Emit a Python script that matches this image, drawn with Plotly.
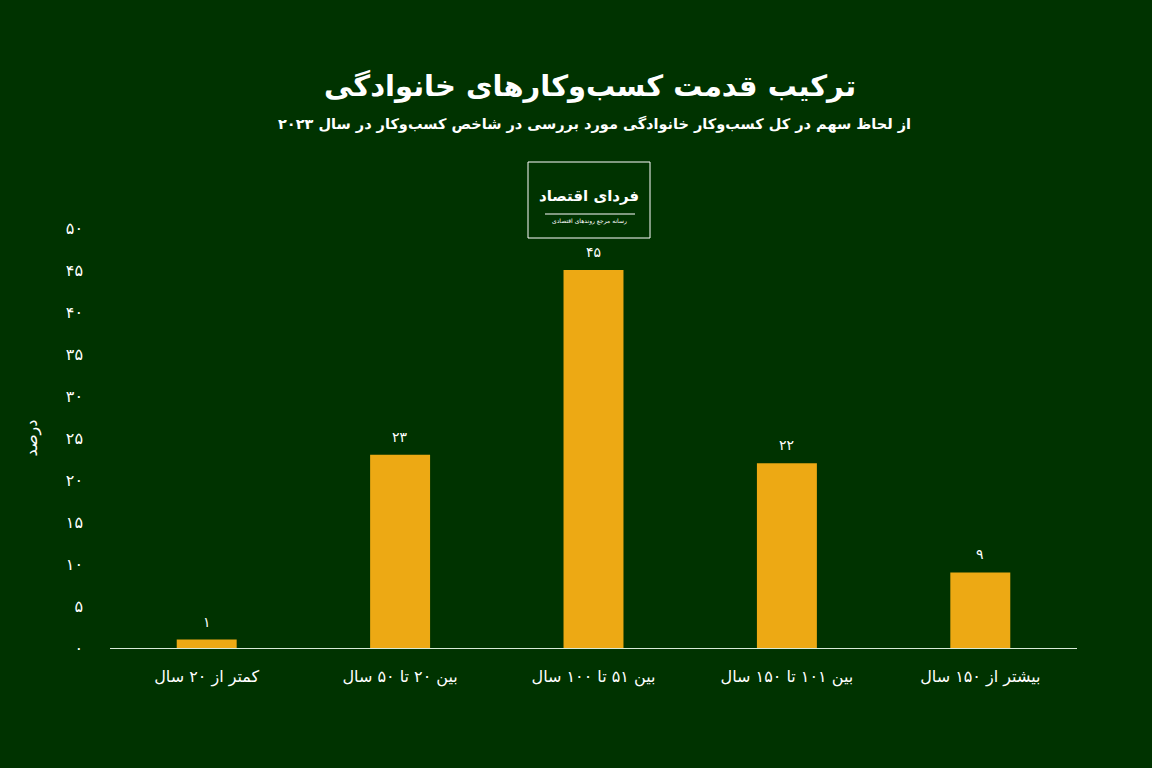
import plotly.graph_objects as go

categories = ["کمتر از ۲۰ سال", "بین ۲۰ تا ۵۰ سال", "بین ۵۱ تا ۱۰۰ سال", "بین ۱۰۱ تا ۱۵۰ سال", "بیشتر از ۱۵۰ سال"]
values = [1, 23, 45, 22, 9]
value_labels = ["۱", "۲۳", "۴۵", "۲۲", "۹"]
y_tickvals = [0, 5, 10, 15, 20, 25, 30, 35, 40, 45, 50]
y_ticktext = ["۰", "۵", "۱۰", "۱۵", "۲۰", "۲۵", "۳۰", "۳۵", "۴۰", "۴۵", "۵۰"]

title = "ترکیب قدمت کسب‌وکارهای خانوادگی"
subtitle = "از لحاظ سهم در کل کسب‌وکار خانوادگی مورد بررسی در شاخص کسب‌وکار در سال ۲۰۲۳"
y_title = "درصد"
logo_main = "فردای اقتصاد"
logo_sub = "رسانه مرجع روندهای اقتصادی"

BG = "#003300"
BAR = "#EDA914"
FONT = "DejaVu Sans"

L, R, T, B = 110, 75, 228, 120
W, H = 1152, 768
pw = W - L - R
ph = H - T - B

def px_x(v):
    return (v - L) / pw

def px_y(v):
    return (H - B - v) / ph

fig = go.Figure(go.Bar(
    x=categories, y=values,
    marker=dict(color=BAR, line=dict(width=0)),
    hoverinfo="skip",
))

annotations = [
    dict(text="<b>" + title + "</b>", x=px_x(590), y=px_y(86), xref="paper", yref="paper",
         xanchor="center", yanchor="middle", showarrow=False,
         font=dict(size=29, color="white", family=FONT)),
    dict(text="<b>" + subtitle + "</b>", x=px_x(594), y=px_y(124), xref="paper", yref="paper",
         xanchor="center", yanchor="middle", showarrow=False,
         font=dict(size=14.5, color="white", family=FONT)),
    dict(text="<b>" + logo_main + "</b>", x=px_x(589), y=px_y(196), xref="paper", yref="paper",
         xanchor="center", yanchor="middle", showarrow=False,
         font=dict(size=15, color="white", family=FONT)),
    dict(text=logo_sub, x=px_x(589), y=px_y(221), xref="paper", yref="paper",
         xanchor="center", yanchor="middle", showarrow=False,
         font=dict(size=6, color="white", family=FONT)),
]
for c, v, t in zip(categories, values, value_labels):
    annotations.append(dict(text=t, x=c, y=v, xref="x", yref="y", showarrow=False,
                            xanchor="center", yanchor="middle", yshift=18,
                            font=dict(size=14, color="white", family=FONT)))

fig.update_layout(
    width=W, height=H,
    paper_bgcolor=BG, plot_bgcolor=BG,
    margin=dict(l=L, r=R, t=T, b=B),
    bargap=0.69,
    showlegend=False,
    font=dict(family=FONT, color="white"),
    xaxis=dict(showgrid=False, showline=True, linecolor="#d8ead8", linewidth=1,
               ticks="", tickfont=dict(size=16, color="white", family=FONT),
               ticklabelstandoff=14, fixedrange=True),
    yaxis=dict(range=[0, 50], showgrid=False, zeroline=False, showline=False,
               tickvals=y_tickvals, ticktext=y_ticktext, ticks="",
               tickfont=dict(size=16, color="white", family=FONT),
               ticklabelstandoff=26, fixedrange=True,
               title=dict(text=y_title, font=dict(size=16, color="white", family=FONT), standoff=24)),
    annotations=annotations,
)

fig.add_shape(type="rect", xref="paper", yref="paper",
              x0=px_x(528), x1=px_x(650), y0=px_y(238), y1=px_y(162),
              line=dict(color="white", width=1), fillcolor="rgba(0,0,0,0)")
fig.add_shape(type="line", xref="paper", yref="paper",
              x0=px_x(545), x1=px_x(635), y0=px_y(214), y1=px_y(214),
              line=dict(color="white", width=1))

fig.write_html("out.html", config=dict(displayModeBar=False),
               post_script="document.body.style.margin='0';document.body.style.background='#003300';document.body.style.overflow='hidden';")
